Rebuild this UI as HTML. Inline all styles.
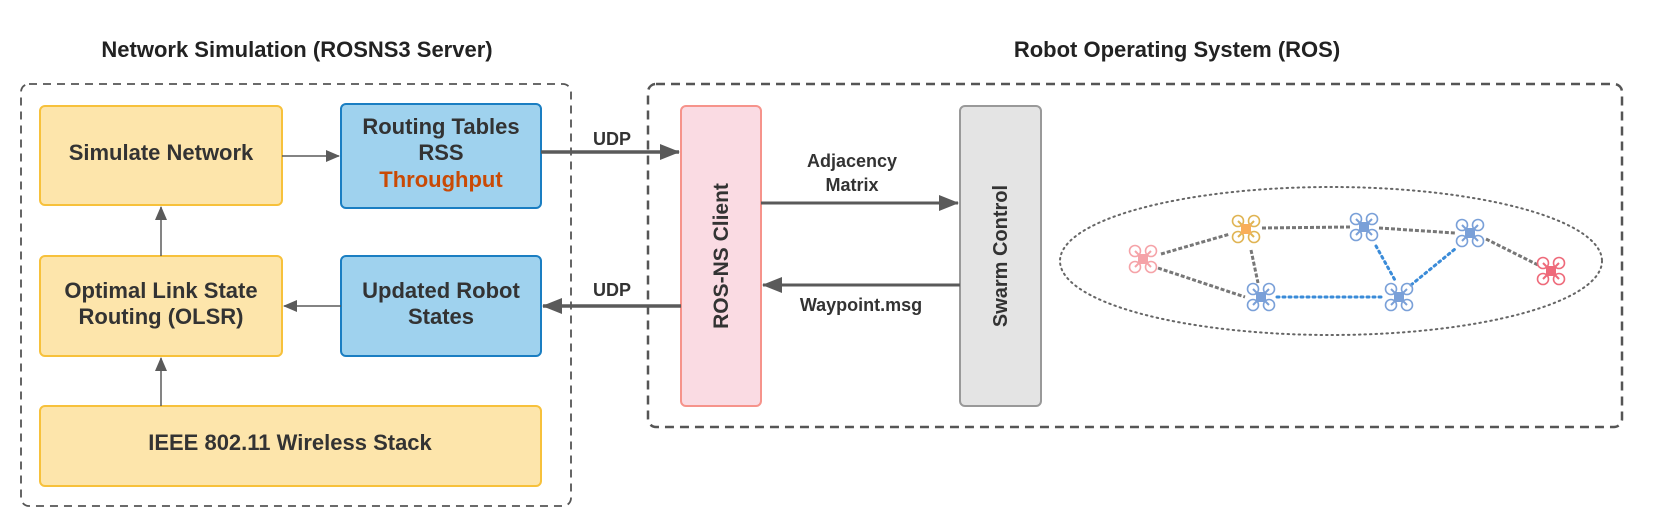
<!DOCTYPE html>
<html><head><meta charset="utf-8"><style>
html,body{margin:0;padding:0;background:#fff;}
svg{display:block;font-family:"Liberation Sans",sans-serif;font-weight:bold;}
</style></head><body>
<svg width="1666" height="526" viewBox="0 0 1666 526" xmlns="http://www.w3.org/2000/svg">
<defs>
<marker id="ah" markerWidth="14" markerHeight="12" refX="13" refY="6" orient="auto" markerUnits="userSpaceOnUse"><path d="M0,0 L14,6 L0,12 z" fill="#5a5a5a"/></marker>
<marker id="ahb" markerWidth="20" markerHeight="16" refX="19" refY="8" orient="auto" markerUnits="userSpaceOnUse"><path d="M0,0 L20,8 L0,16 z" fill="#5a5a5a"/></marker>
<g id="drone">
<circle cx="-8" cy="-8" r="5.5" fill="none" stroke-width="1.6"/><circle cx="8" cy="-8" r="5.5" fill="none" stroke-width="1.6"/>
<circle cx="-8" cy="8" r="5.5" fill="none" stroke-width="1.6"/><circle cx="8" cy="8" r="5.5" fill="none" stroke-width="1.6"/>
<line x1="-8" y1="-8" x2="8" y2="8" stroke-width="2"/><line x1="8" y1="-8" x2="-8" y2="8" stroke-width="2"/>
<rect x="-5" y="-5" width="10" height="10" stroke="none"/>
</g>
</defs>
<text x="297" y="57" font-size="22" fill="#222" text-anchor="middle">Network Simulation (ROSNS3 Server)</text>
<text x="1177" y="57" font-size="22" fill="#222" text-anchor="middle">Robot Operating System (ROS)</text>
<rect x="21" y="84" width="550" height="422" rx="8" fill="none" stroke="#555" stroke-width="1.8" stroke-dasharray="8,6"/>
<rect x="648" y="84" width="974" height="343" rx="8" fill="none" stroke="#555" stroke-width="2.5" stroke-dasharray="9,6"/>
<g stroke="#f7c13b" stroke-width="2" fill="#fde5ab">
<rect x="40" y="106" width="242" height="99" rx="5"/>
<rect x="40" y="256" width="242" height="100" rx="5"/>
<rect x="40" y="406" width="501" height="80" rx="5"/>
</g>
<g stroke="#1a7ec2" stroke-width="2" fill="#9fd2ee">
<rect x="341" y="104" width="200" height="104" rx="5"/>
<rect x="341" y="256" width="200" height="100" rx="5"/>
</g>
<rect x="681" y="106" width="80" height="300" rx="5" fill="#fadbe3" stroke="#f6938b" stroke-width="2"/>
<rect x="960" y="106" width="81" height="300" rx="5" fill="#e4e4e4" stroke="#999" stroke-width="2"/>
<g font-size="22" fill="#333" text-anchor="middle">
<text x="161" y="160">Simulate Network</text>
<text x="441" y="134">Routing Tables</text>
<text x="441" y="160">RSS</text>
<text x="441" y="187" fill="#c94a05">Throughput</text>
<text x="161" y="298">Optimal Link State</text>
<text x="161" y="324">Routing (OLSR)</text>
<text x="441" y="298">Updated Robot</text>
<text x="441" y="324">States</text>
<text x="290" y="450">IEEE 802.11 Wireless Stack</text>
<text transform="translate(728,256) rotate(-90)" font-size="21">ROS-NS Client</text>
<text transform="translate(1007,256) rotate(-90)" font-size="20">Swarm Control</text>
</g>
<g font-size="18" fill="#333" text-anchor="middle">
<text x="612" y="145">UDP</text>
<text x="612" y="296">UDP</text>
<text x="852" y="167">Adjacency</text>
<text x="852" y="191">Matrix</text>
<text x="861" y="311">Waypoint.msg</text>
</g>
<g stroke="#5a5a5a" fill="none">
<line x1="282" y1="156" x2="339" y2="156" stroke-width="1.5" marker-end="url(#ah)"/>
<line x1="341" y1="306" x2="284" y2="306" stroke-width="1.5" marker-end="url(#ah)"/>
<line x1="161" y1="256" x2="161" y2="207" stroke-width="1.5" marker-end="url(#ah)"/>
<line x1="161" y1="406" x2="161" y2="358" stroke-width="1.5" marker-end="url(#ah)"/>
<line x1="541" y1="152" x2="679" y2="152" stroke-width="3.5" marker-end="url(#ahb)"/>
<line x1="681" y1="306" x2="543" y2="306" stroke-width="3.5" marker-end="url(#ahb)"/>
<line x1="761" y1="203" x2="958" y2="203" stroke-width="3" marker-end="url(#ahb)"/>
<line x1="960" y1="285" x2="763" y2="285" stroke-width="3" marker-end="url(#ahb)"/>
</g>
<ellipse cx="1331" cy="261" rx="271" ry="74" fill="none" stroke="#666" stroke-width="2" stroke-dasharray="1.5,4" stroke-linecap="round"/>
<g stroke="#777" stroke-width="3" stroke-dasharray="4,2" fill="none">
<line x1="1161" y1="254" x2="1230" y2="234"/>
<line x1="1158" y1="268" x2="1245" y2="297"/>
<line x1="1251" y1="250" x2="1258" y2="283"/>
<line x1="1262" y1="228" x2="1350" y2="227"/>
<line x1="1379" y1="228" x2="1455" y2="233"/>
<line x1="1486" y1="239" x2="1538" y2="265"/>
</g>
<g stroke="#3a8bd8" stroke-width="3" stroke-dasharray="2,4" stroke-linecap="round" fill="none">
<line x1="1277" y1="297" x2="1383" y2="297"/>
<line x1="1376" y1="246" x2="1396" y2="282"/>
<line x1="1411" y1="285" x2="1455" y2="249"/>
</g>
<use href="#drone" x="1143" y="259" stroke="#f5a3a8" fill="#f5a3a8"/>
<use href="#drone" x="1246" y="229" stroke="#e0b453" fill="#f9ae5a"/>
<use href="#drone" x="1364" y="227" stroke="#7aa0d8" fill="#7aa0d8"/>
<use href="#drone" x="1470" y="233" stroke="#7aa0d8" fill="#7aa0d8"/>
<use href="#drone" x="1551" y="271" stroke="#ee6a7a" fill="#ee6a7a"/>
<use href="#drone" x="1261" y="297" stroke="#7aa0d8" fill="#7aa0d8"/>
<use href="#drone" x="1399" y="297" stroke="#7aa0d8" fill="#7aa0d8"/>
</svg>
</body></html>
